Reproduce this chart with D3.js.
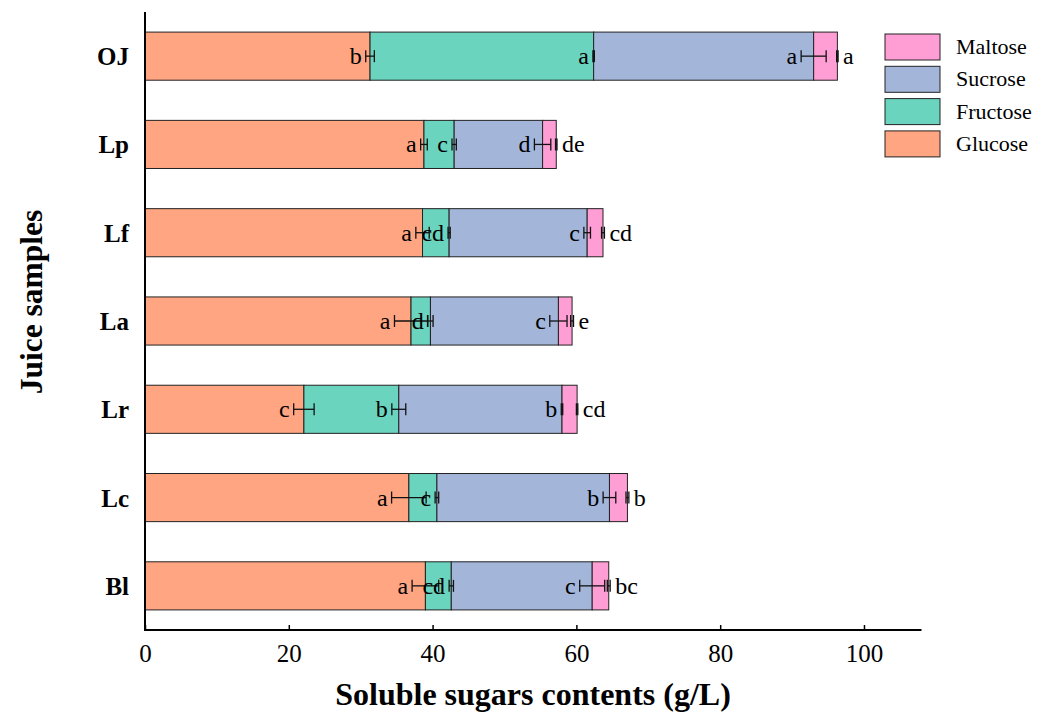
<!DOCTYPE html>
<html>
<head>
<meta charset="utf-8">
<script src="https://cdn.jsdelivr.net/npm/d3@7"></script>
<style>
  html, body { margin: 0; padding: 0; background: #fff; }
  svg { display: block; }
  text { font-family: "Times New Roman", "Liberation Serif", serif; fill: #000; }
</style>
</head>
<body>
<svg id="chart" width="1046" height="713"></svg>
<script>
// ---------- data ----------
const categories = ["OJ", "Lp", "Lf", "La", "Lr", "Lc", "Bl"];
const seriesNames = ["Glucose", "Fructose", "Sucrose", "Maltose"];
const glucose  = [31.3, 38.8, 38.6, 37.0, 22.1, 36.7, 39.0];
const fructose = [31.1,  4.2,  3.7,  2.7, 13.2,  3.9,  3.6];
const sucrose  = [30.6, 12.3, 19.2, 17.8, 22.7, 24.0, 19.6];
const maltose  = [ 3.3,  1.9,  2.2,  1.9,  2.1,  2.5,  2.3];
const glucoseErr  = [0.6, 0.46, 0.93, 2.3, 1.42, 2.4, 1.85];
const fructoseErr = [0.1, 0.3, 0.15, 0.37, 0.97, 0.25, 0.3];
const sucroseErr  = [1.74, 1.14, 0.46, 1.2, 0.1, 0.88, 1.74];
const maltoseErr  = [0.1, 0.1, 0.2, 0.2, 0.1, 0.2, 0.2];
const glucoseSig  = ["b", "a", "a", "a", "c", "a", "a"];
const fructoseSig = ["a", "c", "cd", "d", "b", "c", "cd"];
const sucroseSig  = ["a", "d", "c", "c", "b", "b", "c"];
const maltoseSig  = ["a", "de", "cd", "e", "cd", "b", "bc"];
const xTicks = [0, 20, 40, 60, 80, 100];
const colors = { Glucose: "#FFA582", Fructose: "#6BD4BE", Sucrose: "#A3B6DA", Maltose: "#FF9ED5" };

const values = { Glucose: glucose, Fructose: fructose, Sucrose: sucrose, Maltose: maltose };
const errs = { Glucose: glucoseErr, Fructose: fructoseErr, Sucrose: sucroseErr, Maltose: maltoseErr };
const sigs = { Glucose: glucoseSig, Fructose: fructoseSig, Sucrose: sucroseSig, Maltose: maltoseSig };

// ---------- layout ----------
const svg = d3.select("#chart");
const pLeft = 145, pRight = 921.5, pTop = 12, pBottom = 630;

const x = d3.scaleLinear().domain([0, 108]).range([pLeft, pRight]);
const y = d3.scaleBand().domain(categories).range([pTop, pBottom])
  .paddingInner(0.455).paddingOuter(0.2275);

const table = categories.map((c, i) => {
  const row = { cat: c };
  seriesNames.forEach(s => row[s] = values[s][i]);
  return row;
});
const stacked = d3.stack().keys(seriesNames)(table);

// bars
const g = svg.append("g");
stacked.forEach(layer => {
  g.selectAll(null).data(layer).join("rect")
    .attr("x", d => x(d[0]))
    .attr("y", d => y(d.data.cat))
    .attr("width", d => x(d[1]) - x(d[0]))
    .attr("height", y.bandwidth())
    .attr("fill", colors[layer.key])
    .attr("stroke", "#222")
    .attr("stroke-width", 1);
});

// error bars and letters
const cap = 12;
stacked.forEach(layer => {
  const key = layer.key;
  layer.forEach((d, i) => {
    const cy = y(d.data.cat) + y.bandwidth() / 2;
    const e = errs[key][i];
    const x1 = x(d[1] - e), x2 = x(d[1] + e);
    const eg = g.append("g").attr("stroke", "#111").attr("stroke-width", 1.3);
    eg.append("line").attr("x1", x1).attr("x2", x2).attr("y1", cy).attr("y2", cy);
    eg.append("line").attr("x1", x1).attr("x2", x1).attr("y1", cy - cap / 2).attr("y2", cy + cap / 2);
    eg.append("line").attr("x1", x2).attr("x2", x2).attr("y1", cy - cap / 2).attr("y2", cy + cap / 2);
    const isLast = key === "Maltose";
    g.append("text")
      .attr("x", isLast ? x2 + 5 : x1 - 4)
      .attr("y", cy + 8)
      .attr("text-anchor", isLast ? "start" : "end")
      .attr("font-size", 24)
      .text(sigs[key][i]);
  });
});

// axes
svg.append("line").attr("x1", pLeft).attr("x2", pLeft).attr("y1", pTop).attr("y2", pBottom + 1)
  .attr("stroke", "#000").attr("stroke-width", 2);
svg.append("line").attr("x1", pLeft - 1).attr("x2", pRight).attr("y1", pBottom).attr("y2", pBottom)
  .attr("stroke", "#000").attr("stroke-width", 2);

const xa = svg.append("g").attr("transform", `translate(0,${pBottom})`)
  .call(d3.axisBottom(x).tickValues(xTicks).tickSizeInner(-5).tickSizeOuter(0).tickPadding(14));
xa.select(".domain").remove();
xa.selectAll(".tick line").attr("stroke", "#000").attr("stroke-width", 1.5);
xa.selectAll(".tick text").attr("font-family", "'Times New Roman','Liberation Serif',serif")
  .attr("font-size", 25).attr("fill", "#000");

// category labels
svg.selectAll(null).data(categories).join("text")
  .attr("x", pLeft - 16)
  .attr("y", d => y(d) + y.bandwidth() / 2 + 9)
  .attr("text-anchor", "end")
  .attr("font-weight", "bold")
  .attr("font-size", 25)
  .text(d => d);

// titles
svg.append("text").attr("x", 533).attr("y", 705)
  .attr("text-anchor", "middle").attr("font-weight", "bold").attr("font-size", 32)
  .text("Soluble sugars contents (g/L)");
svg.append("text")
  .attr("transform", `translate(42, 302) rotate(-90)`)
  .attr("text-anchor", "middle").attr("font-weight", "bold").attr("font-size", 31.5)
  .text("Juice samples");

// legend
const legendOrder = ["Maltose", "Sucrose", "Fructose", "Glucose"];
const lg = svg.append("g");
legendOrder.forEach((s, i) => {
  const ly = 34 + i * 32.3;
  lg.append("rect").attr("x", 885).attr("y", ly).attr("width", 55).attr("height", 26)
    .attr("fill", colors[s]).attr("stroke", "#222").attr("stroke-width", 1);
  lg.append("text").attr("x", 956).attr("y", ly + 20).attr("font-size", 22).text(s);
});
</script>
</body>
</html>
